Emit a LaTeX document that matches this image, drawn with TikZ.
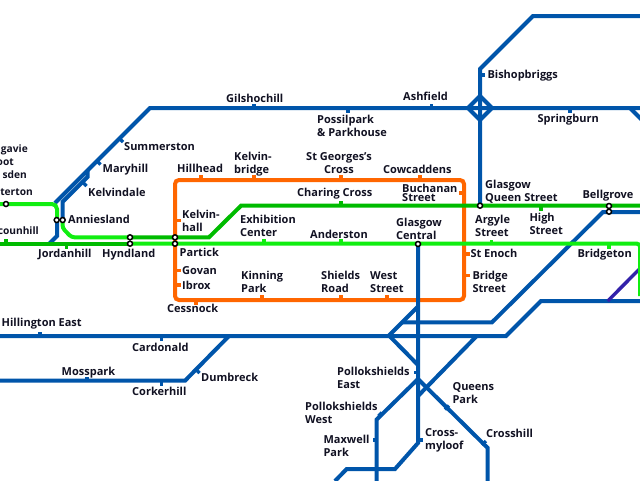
\documentclass[tikz,border=0pt]{standalone}
\usepackage{fontspec}
\setmainfont{Open Sans}
\definecolor{lineblue}{HTML}{0055AA}
\definecolor{linegreen}{HTML}{00BB00}
\definecolor{linebright}{HTML}{11EE11}
\definecolor{lineorange}{HTML}{FF6600}
\definecolor{lineindigo}{HTML}{3322AA}
\definecolor{labelink}{HTML}{111122}
\tikzset{
  x=1pt, y=-1pt,
  blueline/.style={draw=lineblue, line width=4pt, line join=miter},
  greenline/.style={draw=linegreen, line width=4pt},
  brightline/.style={draw=linebright, line width=4pt},
  orangeline/.style={draw=lineorange, line width=4pt},
  indigoline/.style={draw=lineindigo, line width=3.4pt},
  bluetick/.style={draw=lineblue, line width=3.5pt},
  greentick/.style={draw=linegreen, line width=3.5pt},
  brighttick/.style={draw=linebright, line width=3.5pt},
  orangetick/.style={draw=lineorange, line width=3.5pt},
  ring/.style={circle, draw=black, fill=white, line width=1.5pt, minimum size=5pt, inner sep=0pt},
  lbl/.style={anchor=base west, inner sep=0pt, align=left, text=labelink,
    font=\fontsize{11}{12.8}\selectfont\bfseries},
  rlbl/.style={lbl, anchor=base east, align=right,
    font=\fontsize{10.2}{12.8}\selectfont\bfseries}
}
\begin{document}
\begin{tikzpicture}
\useasboundingbox (0,0) rectangle (640,480);
\clip (0,0) rectangle (640,480);

% Junction points shared by several routes
\coordinate (qs) at (480,205.7);
\coordinate (central) at (418,244);
\coordinate (ewest) at (0,336);
\coordinate (shieldsN) at (418,365);
\coordinate (shieldsS) at (418,379);

% Orange circle
\draw[orangeline, rounded corners=4pt] (175,180) rectangle (464,300);
% Orange station ticks
\foreach \sx in {201,254,341,420} \draw[orangetick] (\sx,180) -- (\sx,175);
\foreach \sx in {262,341,387} \draw[orangetick] (\sx,300) -- (\sx,295);
\draw[orangetick] (196,300) -- (196,305);
\foreach \sy in {220.7,270.7,285} \draw[orangetick] (175,\sy) -- (180.5,\sy);
\draw[orangetick] (464,193) -- (458.5,193);
\foreach \sy in {254,275.7} \draw[orangetick] (464,\sy) -- (470,\sy);

% North blue routes
\draw[blueline] (640,16) -- (533,16) -- (480,69) -- (qs);
\draw[blueline] (640,108) -- (150,108) -- (55,203);
\draw[blueline] (630,108) -- (642,120);
\draw[blueline] (468,108) -- (480,96) -- (492,108) -- (480,120) -- cycle;
\draw[blueline] (87.5,171) -- (87.5,177) -- (62.5,202) -- (62.5,220);
\draw[blueline] (57,220) -- (57,236) -- (49,244);
\foreach \sx in {254,431.7} \draw[bluetick] (\sx,108) -- (\sx,104);
\foreach \sx in {348,570} \draw[bluetick] (\sx,108) -- (\sx,113);
\draw[bluetick] (480,75) -- (484.5,75);
\draw[bluetick] (119,138) -- (123,142);
\draw[bluetick] (96.5,160.5) -- (100.5,164.5);
\draw[bluetick] (82.5,182) -- (86.5,186);

% South blue routes
\draw[blueline] (640,212) -- (603,212) -- (492,322.3) -- (402,322.3);
\draw[blueline] (640,301) -- (541,301) -- (506,336) -- (ewest);
\draw[indigoline] (607.7,301) -- (642,266.5);
\draw[blueline] (229,336) -- (185,380.7) -- (0,380.7);
\draw[blueline] (central) -- (418,443) -- (395,469) -- (346.7,469) -- (335,481);
\draw[blueline] (418,306.5) -- (388,336.5);
\draw[blueline] (388,334.5) -- (shieldsN);
\draw[blueline] (shieldsS) -- (487.7,448) -- (487.7,481);
\draw[blueline] (shieldsS) -- (376.7,419.5) -- (376.7,481);
\draw[blueline] (476.7,336) -- (418,396);
\draw[bluetick] (40,336) -- (40,332);
\draw[bluetick] (161.7,336) -- (161.7,340.5);
\draw[bluetick] (87,380.7) -- (87,376.5);
\draw[bluetick] (161.7,380.7) -- (161.7,385.5);
\draw[bluetick] (196,369.5) -- (199.5,373);
\draw[bluetick] (418,372.7) -- (414,372.7);
\draw[bluetick] (445,409.5) -- (449,405.5);
\draw[bluetick] (378.5,416) -- (382,412.5);
\draw[bluetick] (482,445) -- (486,441);
\draw[bluetick] (376.7,440) -- (372.7,440);
\draw[bluetick] (418,440) -- (422.5,440);

% Green routes
\draw[brightline, rounded corners=5pt] (0,204) -- (57,204) -- (57,220);
\draw[brightline, rounded corners=3pt] (62.5,220) -- (62.5,228) -- (71.5,237.3) -- (130,237.3);
\draw[greenline] (130,237.3) -- (209,237.3) -- (241,205.7) -- (640,205.7);
\draw[greenline] (0,243.7) -- (130,243.7);
\draw[brightline, rounded corners=3pt] (130,243.7) -- (640,243.7) -- (640,296);
\draw[greentick] (6,243.7) -- (6,239);
\draw[greentick] (66.7,243.7) -- (66.7,248.5);
\draw[greentick] (341,205.7) -- (341,201);
\draw[greentick] (541,205.7) -- (541,210.7);
\draw[brighttick] (264,243.7) -- (264,239);
\draw[brighttick] (341,243.7) -- (341,239);
\draw[brighttick] (491.7,243.7) -- (491.7,239.5);
\draw[brighttick] (609,243.7) -- (609,248.5);

% Interchange markers
\node[ring] (westerton) at (6,204) {};
\node[ring] (annieslandA) at (56.7,220) {};
\node[ring] (annieslandB) at (62.7,220) {};
\node[ring] (hyndlandA) at (130,237.3) {};
\node[ring] (hyndlandB) at (130,243.7) {};
\node[ring] (partickA) at (175,237.3) {};
\node[ring] (partickB) at (175,243.7) {};
\node[ring] (glasgowcentral) at (central) {};
\node[ring] (queenstreet) at (qs) {};
\node[ring] (bellgroveA) at (609,206) {};
\node[ring] (bellgroveB) at (609,211.7) {};

% Station names (the base of a two-line name is its second line)
\node[rlbl] (milngavie) at (28,152) {gavie};
\node[rlbl] (hillfoot) at (14,165.7) {oot};
\node[rlbl] (bearsden) at (27,178.7) {sden};
\node[rlbl] (westertonname) at (33,195.7) {terton};
\node[rlbl] (scotstounhill) at (39,234.3) {counhill};
\node[lbl] (summerston) at (124,150.7) {Summerston};
\node[lbl] (maryhill) at (102.5,172.7) {Maryhill};
\node[lbl] (kelvindale) at (88,196.7) {Kelvindale};
\node[lbl] (anniesland) at (68,223.3) {Anniesland};
\node[lbl] (jordanhill) at (38,257.3) {Jordanhill};
\node[lbl] (hyndland) at (102,257.3) {Hyndland};
\node[lbl] (partick) at (179.5,256.7) {Partick};
\node[lbl] (govan) at (182,274) {Govan};
\node[lbl] (ibrox) at (182,289) {Ibrox};
\node[lbl] (kelvinhall) at (182,231.7) {Kelvin-\\hall};
\node[lbl] (hillhead) at (177,172.7) {Hillhead};
\node[lbl] (kelvinbridge) at (234,173) {Kelvin-\\bridge};
\node[lbl, align=center] (stgeorges) at (306,173) {St Georges's\\Cross};
\node[lbl] (cowcaddens) at (383,173) {Cowcaddens};
\node[lbl] (charingcross) at (297,196.7) {Charing Cross};
\node[lbl, font=\fontsize{11}{9}\selectfont\bfseries] (buchanan) at (402,201.7) {Buchanan\\Street};
\node[lbl] (exhibition) at (240,236.7) {Exhibition\\Center};
\node[lbl] (anderston) at (310,238) {Anderston};
\node[lbl] (centralname) at (396,239) {Glasgow\\Central};
\node[lbl] (kinning) at (241,292.7) {Kinning\\Park};
\node[lbl] (shields) at (321,292) {Shields\\Road};
\node[lbl] (weststreet) at (370,292) {West\\Street};
\node[lbl] (cessnock) at (167,312.7) {Cessnock};
\node[lbl] (queenname) at (485,201.7) {Glasgow\\Queen Street};
\node[lbl] (argyle) at (475,236) {Argyle\\Street};
\node[lbl] (high) at (529.3,234.3) {High\\Street};
\node[lbl] (bellgrove) at (582.3,198.3) {Bellgrove};
\node[lbl] (stenoch) at (470.3,257.3) {St Enoch};
\node[lbl] (bridgest) at (472.3,292.3) {Bridge\\Street};
\node[lbl] (bridgeton) at (577.3,257.3) {Bridgeton};
\node[lbl] (ashfield) at (403,100.7) {Ashfield};
\node[lbl] (bishopbriggs) at (487.3,78.3) {Bishopbriggs};
\node[lbl] (springburn) at (537.3,122.7) {Springburn};
\node[lbl] (gilshochill) at (226,102) {Gilshochill};
\node[lbl] (possilpark) at (317,136) {Possilpark\\\& Parkhouse};
\node[lbl] (pollokeast) at (337,388.7) {Pollokshields\\East};
\node[lbl] (pollokwest) at (305,423.3) {Pollokshields\\West};
\node[lbl] (maxwell) at (323.3,456.7) {Maxwell\\Park};
\node[lbl] (crossmyloof) at (425,449.3) {Cross-\\myloof};
\node[lbl] (queenspark) at (452.3,403.3) {Queens\\Park};
\node[lbl] (crosshill) at (486,437.3) {Crosshill};
\node[lbl] (hillington) at (1.5,326.7) {Hillington East};
\node[lbl] (cardonald) at (132,351.7) {Cardonald};
\node[lbl] (mosspark) at (61.5,375) {Mosspark};
\node[lbl] (corkerhill) at (132,395.7) {Corkerhill};
\node[lbl] (dumbreck) at (201,381.7) {Dumbreck};
\end{tikzpicture}
\end{document}
